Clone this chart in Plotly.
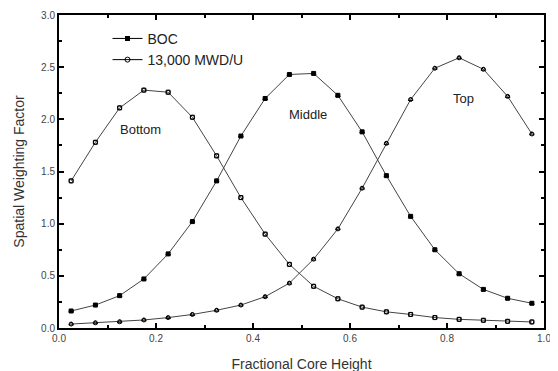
import plotly.graph_objects as go

height = [0.025, 0.075, 0.125, 0.175, 0.225, 0.275, 0.325, 0.375, 0.425, 0.475,
          0.525, 0.575, 0.625, 0.675, 0.725, 0.775, 0.825, 0.875, 0.925, 0.975]

bottom = [1.41, 1.78, 2.11, 2.28, 2.26, 2.02, 1.65, 1.25, 0.90, 0.61,
          0.40, 0.28, 0.20, 0.155, 0.13, 0.10, 0.083, 0.074, 0.064, 0.058]
middle = [0.163, 0.22, 0.31, 0.47, 0.71, 1.02, 1.41, 1.84, 2.20, 2.43,
          2.44, 2.23, 1.88, 1.46, 1.07, 0.75, 0.52, 0.37, 0.285, 0.237]
top = [0.038, 0.05, 0.06, 0.077, 0.10, 0.13, 0.17, 0.22, 0.30, 0.43,
       0.66, 0.95, 1.34, 1.77, 2.19, 2.49, 2.59, 2.48, 2.22, 1.86]

series_names = ["BOC", "13,000 MWD/U"]
region_labels = ["Bottom", "Middle", "Top"]
label_x = [0.168, 0.514, 0.833]
label_y = [1.90, 2.05, 2.20]

x_ticks = [0.0, 0.2, 0.4, 0.6, 0.8, 1.0]
y_ticks = [0.0, 0.5, 1.0, 1.5, 2.0, 2.5, 3.0]

line_color = "#444444"
fig = go.Figure()

curves = [
    (bottom, ["square-open", "circle-open"]),
    (middle, ["triangle-up", "square"]),
    (top, ["triangle-up-open", "circle-open"]),
]
for vals, syms in curves:
    for k, s in enumerate(syms):
        fig.add_trace(go.Scatter(
            x=height, y=vals, mode="lines+markers" if k == 0 else "markers",
            line=dict(color=line_color, width=1),
            marker=dict(symbol=s, size=4, color="black",
                        line=dict(color="black", width=1)),
            showlegend=False, hoverinfo="skip"))

# legend entries
fig.add_trace(go.Scatter(x=[None], y=[None], mode="lines+markers", name=series_names[0],
                         line=dict(color="black", width=1),
                         marker=dict(symbol="square", size=5, color="black")))
fig.add_trace(go.Scatter(x=[None], y=[None], mode="lines+markers", name=series_names[1],
                         line=dict(color="black", width=1),
                         marker=dict(symbol="circle-open", size=5, color="black",
                                     line=dict(width=1))))

for t, lx, ly in zip(region_labels, label_x, label_y):
    fig.add_annotation(x=lx, y=ly, text=t, showarrow=False,
                       font=dict(family="Liberation Sans, Arial", size=13, color="#222"))

axis_common = dict(
    showline=True, linecolor="black", linewidth=2, mirror="ticks",
    ticks="inside", ticklen=5, tickwidth=1.5, tickcolor="black",
    showgrid=False, zeroline=False, automargin=False,
    tickfont=dict(family="Liberation Sans, Arial", size=10, color="#444"),
    title_font=dict(family="Liberation Sans, Arial", size=14, color="#333"),
)

fig.update_xaxes(range=[0, 1], tickvals=x_ticks, ticktext=[f"{v:.1f}" for v in x_ticks],
                 minor=dict(dtick=0.1, ticks="inside", ticklen=3, tickcolor="black"),
                 title_text="Fractional Core Height", title_standoff=16, **axis_common)
fig.update_yaxes(range=[0, 3], tickvals=y_ticks, ticktext=[f"{v:.1f}" for v in y_ticks],
                 minor=dict(dtick=0.25, ticks="inside", ticklen=3, tickcolor="black"),
                 title_text="Spatial Weighting Factor", title_standoff=13, **axis_common)

# page body adds an 8px offset; compensate so the plot frame lands where the reference has it
fig.update_layout(
    width=558, height=371,
    margin=dict(l=51, r=22, t=7, b=51),
    paper_bgcolor="white", plot_bgcolor="white",
    legend=dict(x=0.1, y=0.975, xanchor="left", yanchor="top",
                bgcolor="rgba(0,0,0,0)", tracegroupgap=0,
                font=dict(family="Liberation Sans, Arial", size=14, color="#222")),
)

fig.write_html("out.html")
